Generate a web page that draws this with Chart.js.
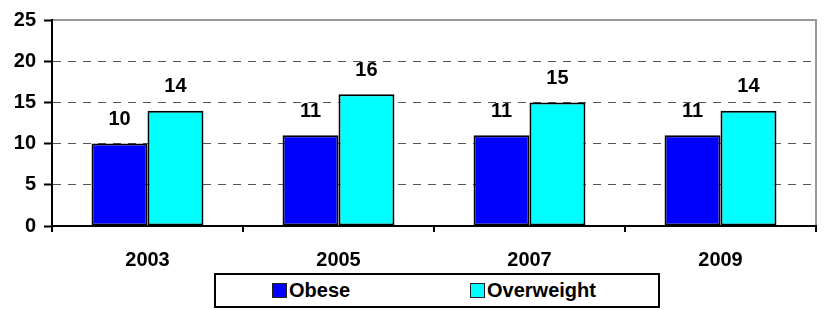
<!DOCTYPE html>
<html>
<head>
<meta charset="utf-8">
<script src="https://cdn.jsdelivr.net/npm/chart.js@4/dist/chart.umd.min.js"></script>
<style>
  html, body { margin: 0; padding: 0; background: #fff; }
  #wrap { position: relative; width: 825px; height: 310px; }
  #c { display: block; }
  #legend {
    position: absolute; left: 214px; top: 273px; width: 446px; height: 35px;
    box-sizing: border-box; border: 2px solid #000; background: #fff;
    font-family: 'Liberation Sans', Arial, sans-serif; font-weight: bold; font-size: 20px; color: #000;
  }
  .item { position: absolute; top: 0; height: 31px; display: flex; align-items: center; }
  .sw { width: 13px; height: 13px; border: 1.5px solid #222; margin-right: 2px; }
</style>
</head>
<body>
<div id="wrap">
  <canvas id="c" width="825" height="310"></canvas>
  <div id="legend"></div>
</div>
<script>
const categories = ['2003', '2005', '2007', '2009'];
const obese = [10, 11, 11, 11];
const overweight = [14, 16, 15, 14];
const seriesNames = ['Obese', 'Overweight'];
const seriesColors = ['#0000FF', '#00FFFF'];
const yMin = 0, yMax = 25, yStep = 5;

const FONT = "'Liberation Sans', Arial, sans-serif";

const frame = {
  id: 'frame',
  beforeDatasetsDraw(chart) {
    const { ctx, chartArea: a } = chart;
    ctx.save();
    ctx.strokeStyle = '#999';
    ctx.lineWidth = 2;
    ctx.beginPath();
    ctx.moveTo(a.left, a.top);
    ctx.lineTo(a.right, a.top);
    ctx.lineTo(a.right, a.bottom);
    ctx.stroke();
    ctx.restore();
  },
  afterDatasetsDraw(chart) {
    const { ctx, chartArea: a } = chart;
    ctx.save();
    ctx.strokeStyle = '#000';
    ctx.lineWidth = 2;
    ctx.setLineDash([]);
    ctx.beginPath();
    ctx.moveTo(a.left, a.top - 1);
    ctx.lineTo(a.left, a.bottom);
    ctx.lineTo(a.right + 1, a.bottom);
    ctx.stroke();
    ctx.restore();
  }
};

const valueLabels = {
  id: 'valueLabels',
  afterDatasetsDraw(chart) {
    const { ctx } = chart;
    ctx.save();
    ctx.font = 'bold 20px ' + FONT;
    ctx.fillStyle = '#000';
    ctx.textAlign = 'center';
    ctx.textBaseline = 'middle';
    chart.data.datasets.forEach((ds, i) => {
      chart.getDatasetMeta(i).data.forEach((bar, j) => {
        ctx.fillText(String(ds.data[j]), bar.x, bar.y - 24);
      });
    });
    ctx.restore();
  }
};

const barStyle = { borderColor: '#000', borderWidth: 2, borderSkipped: false, categoryPercentage: 0.586, barPercentage: 1 };

const chart = new Chart(document.getElementById('c'), {
  type: 'bar',
  data: {
    labels: categories,
    datasets: [
      Object.assign({ label: seriesNames[0], data: obese, backgroundColor: seriesColors[0] }, barStyle),
      Object.assign({ label: seriesNames[1], data: overweight, backgroundColor: seriesColors[1] }, barStyle)
    ]
  },
  options: {
    responsive: false,
    animation: false,
    devicePixelRatio: 1,
    layout: { padding: { top: 16, right: 9, bottom: 44, left: 0 } },
    plugins: { legend: { display: false }, tooltip: { enabled: false } },
    scales: {
      x: {
        offset: true,
        grid: { offset: true, drawOnChartArea: false, drawTicks: true, tickLength: 6, color: '#000', lineWidth: 2 },
        border: { display: true, color: '#000', width: 2 },
        ticks: { color: '#000', font: { family: FONT, size: 20, weight: 'bold' }, padding: 16, maxRotation: 0 },
        afterFit(s) { s.height = 40; }
      },
      y: {
        min: yMin, max: yMax,
        grid: {
          color: (c) => (c.tick && (c.tick.value === yMin || c.tick.value === yMax)) ? 'rgba(0,0,0,0)' : '#555',
          lineWidth: 1, tickColor: '#000', tickWidth: 2, tickLength: 8, drawTicks: true
        },
        border: { display: true, color: '#000', width: 2, dash: [8, 7] },
        ticks: { stepSize: yStep, color: '#000', font: { family: FONT, size: 20, weight: 'bold' }, padding: 8 },
        afterFit(s) { s.width = 52; }
      }
    }
  },
  plugins: [frame, valueLabels]
});

// HTML legend built from the chart's datasets
const legend = document.getElementById('legend');
const positions = [56, 254];
chart.data.datasets.forEach((ds, i) => {
  const it = document.createElement('div');
  it.className = 'item';
  it.style.left = positions[i] + 'px';
  const sw = document.createElement('span');
  sw.className = 'sw';
  sw.style.background = ds.backgroundColor;
  const tx = document.createElement('span');
  tx.textContent = ds.label;
  it.appendChild(sw);
  it.appendChild(tx);
  legend.appendChild(it);
});
</script>
</body>
</html>
